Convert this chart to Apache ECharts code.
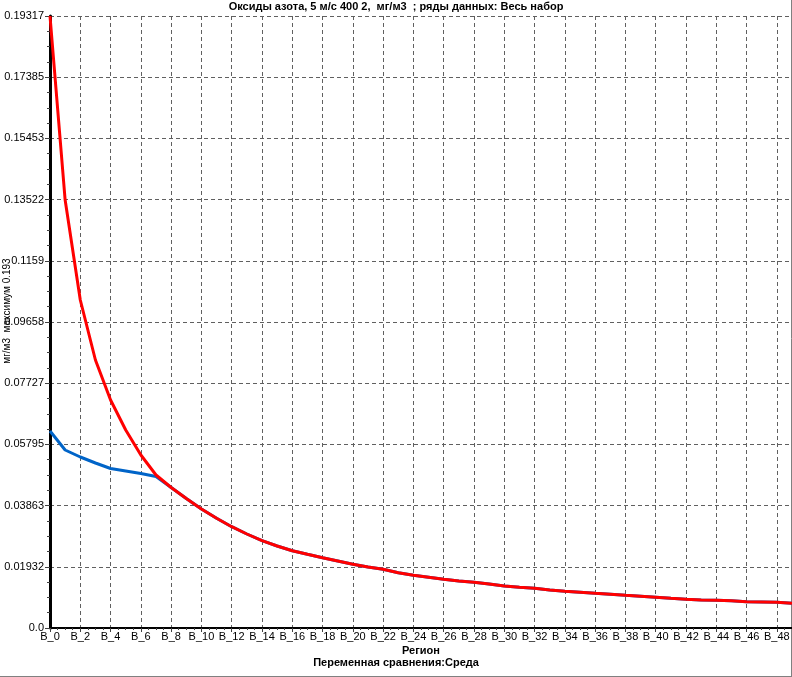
<!DOCTYPE html>
<html>
<head>
<meta charset="utf-8">
<script src="https://cdn.jsdelivr.net/npm/echarts@6/dist/echarts.min.js"></script>
<style>html,body{margin:0;padding:0;background:#fff;}#c{width:792px;height:677px;}</style>
</head>
<body>
<div id="c"></div>
<script>
const categories = ['B_0','B_1','B_2','B_3','B_4','B_5','B_6','B_7','B_8','B_9',
  'B_10','B_11','B_12','B_13','B_14','B_15','B_16','B_17','B_18','B_19',
  'B_20','B_21','B_22','B_23','B_24','B_25','B_26','B_27','B_28','B_29',
  'B_30','B_31','B_32','B_33','B_34','B_35','B_36','B_37','B_38','B_39',
  'B_40','B_41','B_42','B_43','B_44','B_45','B_46','B_47','B_48','B_49'];

const redValues = [0.19317,0.13509,0.10353,0.08459,0.07197,0.06250,0.05461,0.04829,0.04435,0.04088,
  0.03756,0.03463,0.03197,0.02967,0.02756,0.02588,0.02440,0.02326,0.02219,0.02115,
  0.02011,0.01925,0.01853,0.01745,0.01663,0.01600,0.01537,0.01484,0.01446,0.01389,
  0.01326,0.01285,0.01253,0.01199,0.01158,0.01127,0.01095,0.01064,0.01032,0.01001,
  0.00969,0.00937,0.00906,0.00884,0.00874,0.00862,0.00830,0.00821,0.00811,0.00780];

const blueValues = [0.06218,0.05618,0.05397,0.05208,0.05035,0.04956,0.04877,0.04782,0.04435,0.04088,
  0.03756,0.03463,0.03197,0.02967,0.02756,0.02588,0.02440,0.02326,0.02219,0.02115,
  0.02011,0.01925,0.01853,0.01745,0.01663,0.01600,0.01537,0.01484,0.01446,0.01389,
  0.01326,0.01285,0.01253,0.01199,0.01158,0.01127,0.01095,0.01064,0.01032,0.01001,
  0.00969,0.00937,0.00906,0.00884,0.00874,0.00862,0.00830,0.00821,0.00811,0.00780];

const yTickLabels = ['0.0','0.01932','0.03863','0.05795','0.07727','0.09658','0.1159','0.13522','0.15453','0.17385','0.19317'];
const yMax = 0.19317;
const yStep = 0.019317;

const titleText = 'Оксиды азота, 5 м/с 400 2,  мг/м3  ; ряды данных: Весь набор';
const yName = 'мг/м3  максимум 0.193';
const xName = 'Регион';
const footerText = 'Переменная сравнения:Среда';

const FONT = 'Liberation Sans, Arial, sans-serif';
const chart = echarts.init(document.getElementById('c'), null, {renderer: 'canvas'});
chart.setOption({
  animation: false,
  backgroundColor: '#ffffff',
  title: {
    text: titleText, left: 'center', top: 0, padding: 0,
    textStyle: {fontFamily: FONT, fontSize: 11, fontWeight: 'bold', color: '#000', lineHeight: 13}
  },
  grid: {left: 50, right: 0, top: 16, bottom: 49, containLabel: false, outerBoundsMode: 'none'},
  xAxis: [{
    type: 'category', data: categories, boundaryGap: false,
    name: xName, nameLocation: 'middle', nameGap: 17, nameMoveOverlap: false,
    nameTextStyle: {fontFamily: FONT, fontSize: 11, fontWeight: 'bold', color: '#000'},
    axisLine: {show: true, lineStyle: {color: '#000', width: 2}},
    axisTick: {show: true, interval: 1, length: 4, lineStyle: {color: '#404040'}},
    axisLabel: {interval: 1, margin: 3, fontFamily: FONT, fontSize: 11, color: '#000'},
    splitLine: {show: true, interval: 1, lineStyle: {color: '#606060', type: [4, 3], width: 1}}
  }, {
    type: 'value', min: 0, max: 49, interval: 2, position: 'bottom',
    axisLine: {show: false}, axisLabel: {show: false}, axisTick: {show: false},
    splitLine: {show: false},
    minorTick: {show: true, splitNumber: 4, length: 2, lineStyle: {color: '#404040'}}
  }],
  yAxis: {
    type: 'value', min: 0, max: yMax, interval: yStep,
    name: yName, nameLocation: 'middle', nameGap: 38, nameRotate: 90, nameMoveOverlap: false,
    nameTextStyle: {fontFamily: FONT, fontSize: 10, color: '#000', padding: [0, 0, 0, 22]},
    axisLine: {show: true, lineStyle: {color: '#000', width: 3}},
    axisTick: {show: true, length: 5, lineStyle: {color: '#404040'}},
    minorTick: {show: true, splitNumber: 4, length: 3, lineStyle: {color: '#404040'}},
    axisLabel: {
      margin: 6, fontFamily: FONT, fontSize: 11, color: '#000',
      formatter: function (v) { return yTickLabels[Math.round(v / yStep)]; }
    },
    splitLine: {show: true, lineStyle: {color: '#606060', type: [4, 3], width: 1}}
  },
  series: [{
    type: 'line', name: 'blue', data: blueValues, xAxisIndex: 0,
    symbol: 'none', smooth: false, z: 2,
    lineStyle: {color: '#0064c8', width: 3}
  }, {
    type: 'line', name: 'red', data: redValues, xAxisIndex: 0,
    symbol: 'none', smooth: false, z: 3,
    lineStyle: {color: '#ff0000', width: 3}
  }],
  graphic: [
    {type: 'text', left: 'center', top: 657,
     style: {text: footerText, font: 'bold 11px ' + FONT, fill: '#000'}},
    {type: 'line', shape: {x1: 791.5, y1: 0, x2: 791.5, y2: 677}, style: {stroke: '#808080', lineWidth: 1}},
    {type: 'line', shape: {x1: 0, y1: 676.5, x2: 792, y2: 676.5}, style: {stroke: '#808080', lineWidth: 1}}
  ]
});
</script>
</body>
</html>
